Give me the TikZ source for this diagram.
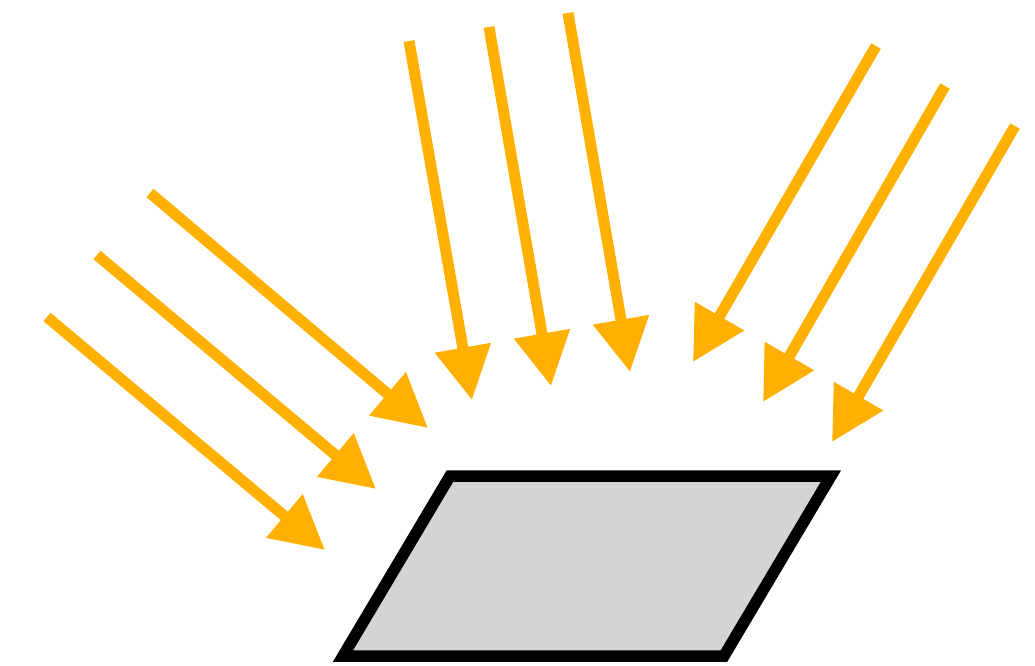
\documentclass[tikz,border=0pt]{standalone}
\usepackage{xcolor}
\usepackage{tikz}
\usetikzlibrary{arrows.meta}

\definecolor{sunray}{RGB}{255,176,0}
\definecolor{panelgray}{RGB}{212,212,212}

\begin{document}
\begin{tikzpicture}[
  x=0.01cm, y=-0.01cm,
  ray/.style={draw=sunray, line width=0.11cm,
              -{Triangle[length=0.53cm, width=0.54cm, fill=sunray]}},
  panel/.style={draw=black, fill=panelgray, line width=0.115cm, miter limit=10}
]
\useasboundingbox (0,0) rectangle (1035,666);

% Surface
\draw[panel] (450,476) -- (831,476) -- (724,656) -- (343,656) -- cycle;

% Rays from the left
\draw[ray] (47,317) -- (325,550);
\draw[ray] (97,255) -- (376,489);
\draw[ray] (150,193) -- (428,428);

% Rays from above
\draw[ray] (409,41) -- (472,400);
\draw[ray] (489,27) -- (551,386);
\draw[ray] (568,13) -- (630,372);

% Rays from the right
\draw[ray] (876,46) -- (693,362);
\draw[ray] (945,86) -- (763,402);
\draw[ray] (1015,126) -- (832,442);

\end{tikzpicture}
\end{document}
